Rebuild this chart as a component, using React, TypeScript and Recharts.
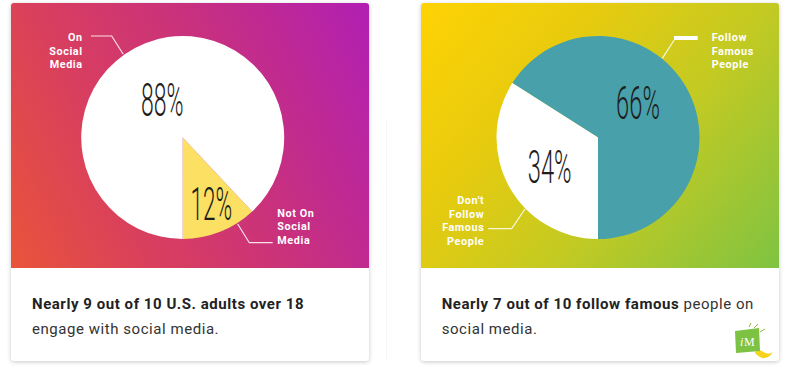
import React from "react";
import { PieChart, Pie, Cell } from "recharts";

// left card: social media use
const socialNames = ["Not On Social Media", "On Social Media"];
const socialValues = [12, 88];
const socialColors = ["#fbe063", "#ffffff"];
const socialCaption = ["Nearly 9 out of 10 U.S. adults over 18", "engage with social media."];

// right card: following famous people
const famousNames = ["Follow Famous People", "Don't Follow Famous People"];
const famousValues = [66, 34];
const famousColors = ["#48a1aa", "#ffffff"];
const famousCaptionBold = "Nearly 7 out of 10 follow famous";
const famousCaptionRest = [" people on", "social media."];

const calloutLines: Record<string, string[]> = {
  "On Social Media": ["On", "Social", "Media"],
  "Not On Social Media": ["Not On", "Social", "Media"],
  "Follow Famous People": ["Follow", "Famous", "People"],
  "Don't Follow Famous People": ["Don't", "Follow", "Famous", "People"],
};

// label layout, offsets from the pie centre
type Layout = {
  pct: [number, number, number];
  text: [number, number];
  anchor: "start" | "end";
  lineGap: number;
  leader: [number, number][];
  bar?: [number, number, number, number];
};

const layouts: Record<string, Layout> = {
  "On Social Media": {
    pct: [-20.4, -21.5, 0.5],
    text: [-100, -96.8],
    anchor: "end",
    lineGap: 13.8,
    leader: [[-91.7, -101.5], [-71, -101.5], [-59.4, -83.2]],
  },
  "Not On Social Media": {
    pct: [28.6, 82.5, 0.49],
    text: [94.6, 79.2],
    anchor: "start",
    lineGap: 13.5,
    leader: [[55, 86.5], [66.6, 105.2], [90, 105.2]],
  },
  "Follow Famous People": {
    pct: [40, -18.2, 0.515],
    text: [113.7, -96.1],
    anchor: "start",
    lineGap: 13.5,
    leader: [[76.5, -98], [64.3, -79.2]],
    bar: [76, -101.5, 23.7, 4],
  },
  "Don't Follow Famous People": {
    pct: [-48.3, 45.2, 0.515],
    text: [-113.7, 66.9],
    anchor: "end",
    lineGap: 13.4,
    leader: [[-109.7, 91.2], [-86.3, 91.2], [-73, 71.5]],
  },
};

const renderLabel = (props: any) => {
  const { cx, cy, name, value } = props;
  const l = layouts[name];
  if (!l) return null;
  const lines = calloutLines[name] || [name];
  return (
    <g key={name}>
      <g transform={`translate(${cx + l.pct[0]},${cy + l.pct[1]}) scale(${l.pct[2]},1)`}>
        <text
          x={0}
          y={0}
          textAnchor="middle"
          fontFamily="Roboto, sans-serif"
          fontWeight={300}
          fontSize={46}
          fill="#1e1e1e"
        >
          {value}%
        </text>
      </g>
      <polyline
        points={l.leader.map(([x, y]) => `${cx + x},${cy + y}`).join(" ")}
        fill="none"
        stroke="rgba(255,255,255,0.85)"
        strokeWidth={1.2}
      />
      {l.bar && (
        <rect x={cx + l.bar[0]} y={cy + l.bar[1]} width={l.bar[2]} height={l.bar[3]} fill="#ffffff" />
      )}
      {lines.map((t, i) => (
        <text
          key={i}
          x={cx + l.text[0]}
          y={cy + l.text[1] + i * l.lineGap}
          textAnchor={l.anchor}
          fontFamily="Roboto, sans-serif"
          fontWeight={700}
          fontSize={10.8}
          letterSpacing={0.6}
          fill="#ffffff"
        >
          {t}
        </text>
      ))}
    </g>
  );
};

const cardStyle: React.CSSProperties = {
  position: "absolute",
  top: 3,
  width: 358,
  height: 358,
  background: "#ffffff",
  borderRadius: 3,
  boxShadow: "0 1px 4px rgba(0,0,0,0.22)",
  overflow: "hidden",
};

const captionStyle: React.CSSProperties = {
  position: "absolute",
  top: 289.2,
  left: 21,
  fontFamily: "Roboto, sans-serif",
  fontSize: 15,
  lineHeight: "24.5px",
  letterSpacing: 0.55,
  color: "#333333",
  whiteSpace: "nowrap",
};

function DonutCard({
  names,
  values,
  colors,
  cx,
}: {
  names: string[];
  values: number[];
  colors: string[];
  cx: number;
}) {
  const rows = names.map((n, i) => ({ name: n, value: values[i] }));
  return (
    <PieChart
      width={358}
      height={265}
      margin={{ top: 0, right: 0, bottom: 0, left: 0 }}
      style={{ position: "absolute", left: 0, top: 0 }}
    >
      <Pie
        data={rows}
        dataKey="value"
        nameKey="name"
        cx={cx}
        cy={134.5}
        outerRadius={101.5}
        startAngle={-90}
        endAngle={270}
        stroke="none"
        label={renderLabel}
        labelLine={false}
        isAnimationActive={false}
      >
        {rows.map((r, i) => (
          <Cell key={r.name} fill={colors[i]} />
        ))}
      </Pie>
    </PieChart>
  );
}

export default function App() {
  return (
    <div style={{ position: "absolute", left: 0, top: 0, width: 787, height: 370, background: "#ffffff" }}>
      <div style={{ position: "absolute", left: 386, top: 120, width: 1, height: 240, background: "#f6f6f6" }} />

      <div style={{ ...cardStyle, left: 11 }}>
        <div
          style={{
            position: "absolute",
            left: 0,
            top: 0,
            width: 358,
            height: 265,
            background: "linear-gradient(65deg, #e9543a 0%, #d93f5d 30%, #c8307f 62%, #b11fb3 100%)",
          }}
        />
        <DonutCard names={socialNames} values={socialValues} colors={socialColors} cx={171.7} />
        <div style={captionStyle}>
          <b style={{ color: "#222222" }}>{socialCaption[0]}</b>
          <br />
          {socialCaption[1]}
        </div>
      </div>

      <div style={{ ...cardStyle, left: 421 }}>
        <div
          style={{
            position: "absolute",
            left: 0,
            top: 0,
            width: 358,
            height: 265,
            background: "linear-gradient(130deg, #ffd304 0%, #e8cb0e 30%, #c4ca22 60%, #7fc342 100%)",
          }}
        />
        <DonutCard names={famousNames} values={famousValues} colors={famousColors} cx={177} />
        <div style={{ ...captionStyle, left: 20.7 }}>
          <b style={{ color: "#222222" }}>{famousCaptionBold}</b>
          {famousCaptionRest[0]}
          <br />
          {famousCaptionRest[1]}
        </div>
        <svg width={50} height={40} style={{ position: "absolute", left: 306, top: 318 }}>
          <path d="M30 28 C36 30 40 34 44 32 C47 30 44 36 38 37 C34 38 30 34 28 32 Z" fill="#f7d31c" />
          <path d="M8 10 L32 7 L33 30 L9 32 Z" fill="#7dc242" />
          <path d="M22 6 L24 2 M27 7 L31 3 M33 11 L38 8" stroke="#8fb83a" strokeWidth={1} />
          <text x={13} y={25} fontFamily="Liberation Serif, serif" fontSize={12} fontStyle="italic" fill="#ffffff">
            i
          </text>
          <text x={17} y={25} fontFamily="Liberation Serif, serif" fontSize={12} fill="#ffffff">
            M
          </text>
        </svg>
      </div>
    </div>
  );
}
